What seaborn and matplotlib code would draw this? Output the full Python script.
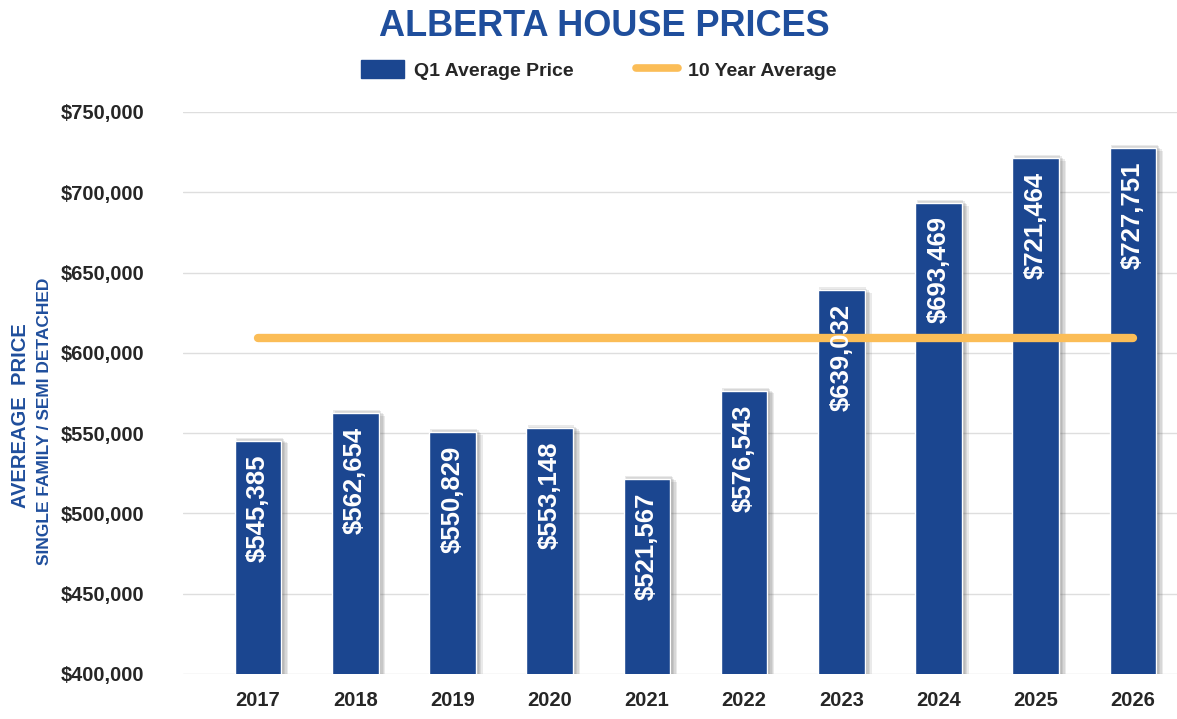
#!/usr/bin/env python
# encoding: utf-8
"""
Alberta house prices, Q1 average vs 10 year average
"""

import numpy as np
import pandas as pd
import matplotlib
matplotlib.use("Agg")
import matplotlib.pyplot as plt
import matplotlib.patheffects as pe
from matplotlib.patches import Patch
from matplotlib.lines import Line2D
import seaborn as sns

sns.set_style("white")
plt.rcParams['font.family'] = ['Liberation Sans', 'DejaVu Sans']

years = ["2017", "2018", "2019", "2020", "2021", "2022", "2023", "2024", "2025", "2026"]
prices = [545385, 562654, 550829, 553148, 521567, 576543, 639032, 693469, 721464, 727751]
yticks = [400000, 450000, 500000, 550000, 600000, 650000, 700000, 750000]

BLUE = "#1b4690"
TITLE_BLUE = "#1f4e9c"
GOLD = "#fbbd57"

df = pd.DataFrame({"year": years, "price": prices})
avg = np.mean(prices)

fig = plt.figure(figsize=(11.77, 7.19), dpi=100)
ax = fig.add_axes([183 / 1177, 1 - 674 / 719, 1 - 183 / 1177, 562 / 719])

sns.barplot(data=df, x="year", y="price", color=BLUE, width=0.48,
            saturation=1, ax=ax, zorder=3)
# soft drop shadow, built from a few faint offset copies
shadow = [pe.SimplePatchShadow(offset=o, shadow_rgbFace="#555555", alpha=0.12)
          for o in [(1, 2), (2, 1), (3, 0), (4, -1), (5, -2)]]
for bar in ax.patches:
    bar.set_path_effects(shadow + [pe.Normal()])

xs = np.arange(len(years))
ax.plot(xs, [avg] * len(xs), color=GOLD, lw=6, solid_capstyle="round", zorder=4)

# value labels inside the bars, rotated
for x, v in zip(xs, prices):
    ax.text(x, v - 8500, f"${v:,}", rotation=90, ha="center", va="top",
            color="white", fontsize=18.5, fontweight="bold", zorder=5)

ax.set_ylim(400000, 750000)
ax.set_xlim(-0.771, 9.453)
ax.set_yticks(yticks)
ax.set_yticklabels([f"${t:,}" for t in yticks])
ax.yaxis.grid(True, color="#dedede", lw=1, zorder=0)
ax.tick_params(axis="both", length=0, labelsize=14.5)
ax.tick_params(axis="y", pad=28)
ax.tick_params(axis="x", pad=12)
for lab in ax.get_xticklabels() + ax.get_yticklabels():
    lab.set_fontweight("bold")
ax.set_xlabel("")
ax.set_ylabel("")
sns.despine(ax=ax, left=True, bottom=True)

fig.text(604 / 1177, 1 - 26 / 719, "ALBERTA HOUSE PRICES", ha="center", va="center",
         color=TITLE_BLUE, fontsize=26, fontweight="bold")

handles = [Patch(facecolor=BLUE, edgecolor=BLUE),
           Line2D([0], [0], color=GOLD, lw=5.5, solid_capstyle="round")]
fig.legend(handles, ["Q1 Average Price", "10 Year Average"], loc="center",
           bbox_to_anchor=(599 / 1177, 1 - 70 / 719), ncol=2, frameon=False,
           prop={"weight": "bold", "size": 14}, handlelength=2.2, handleheight=1.0,
           columnspacing=3.2, handletextpad=0.5)

fig.text(21 / 1177, 1 - 416 / 719, "AVEREAGE  PRICE", rotation=90, ha="center", va="center",
         color=TITLE_BLUE, fontsize=14.5, fontweight="bold")
fig.text(45 / 1177, 1 - 421 / 719, "SINGLE FAMILY / SEMI DETACHED", rotation=90, ha="center",
         va="center", color=TITLE_BLUE, fontsize=12.5, fontweight="bold")

fig.savefig("out.png", dpi=100)
